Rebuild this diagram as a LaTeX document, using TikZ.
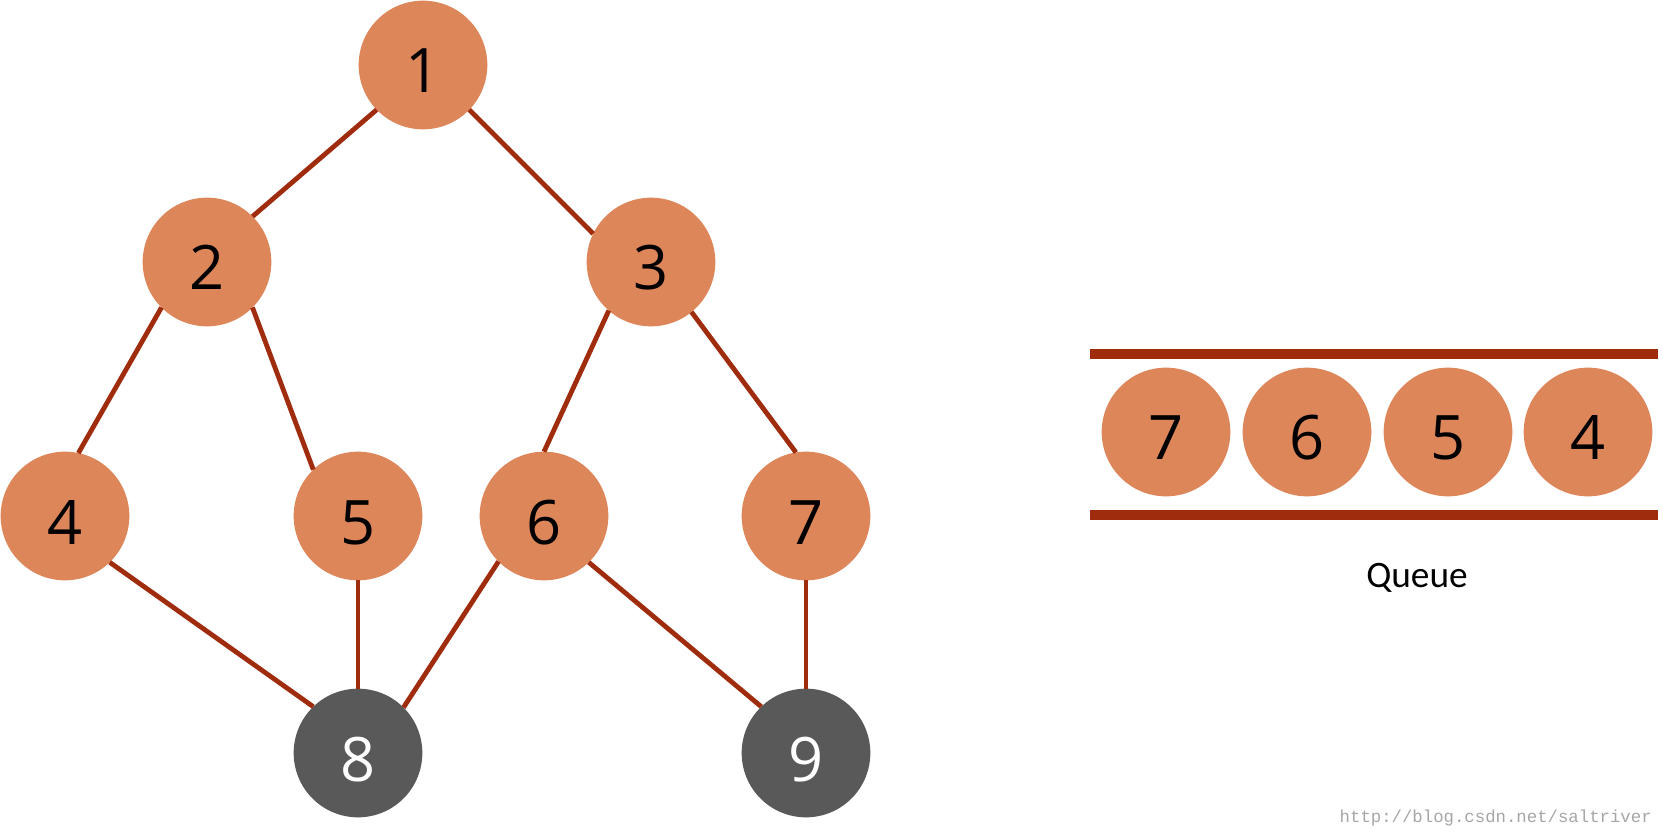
\documentclass[tikz,border=0pt]{standalone}
\usepackage{fontspec}
\setmainfont{Carlito}
\newfontfamily\digitfont{Open Sans}
\newfontfamily\wmfont{Liberation Mono}
\definecolor{nodeor}{RGB}{221,134,89}
\definecolor{nodedk}{RGB}{89,89,89}
\definecolor{edgered}{RGB}{160,44,14}
\begin{document}
\begin{tikzpicture}[x=0.75pt,y=-0.75pt,
  vtx/.style={circle,fill=nodeor,draw=none,inner sep=0pt,outer sep=0pt,minimum size=96.5pt,text height=42pt,text depth=0pt,font=\digitfont\fontsize{46}{46}\selectfont,text=black},
  dvtx/.style={vtx,fill=nodedk,text=white},
  edge/.style={draw=edgered,line width=3.6pt},
  qline/.style={draw=edgered,line width=7pt}]
\useasboundingbox (0,0) rectangle (1663,837);
% tree nodes
\node[vtx] (n1) at (423,65) {1};
\node[vtx] (n2) at (207,262) {2};
\node[vtx] (n3) at (651,262) {3};
\node[vtx] (n4) at (65,516) {4};
\node[vtx] (n5) at (358,516) {5};
\node[vtx] (n6) at (544,516) {6};
\node[vtx] (n7) at (806,516) {7};
\node[dvtx] (n8) at (358,753) {8};
\node[dvtx] (n9) at (806,753) {9};
% edges
\draw[edge] (n1.224) -- (n2.45);
\draw[edge] (n1.-44) -- (n3.154);
\draw[edge] (n2.225) -- (n4.78);
\draw[edge] (n2.-45) -- (n5.134);
\draw[edge] (n3.229) -- (n6.90);
\draw[edge] (n3.-51) -- (n7.99);
\draw[edge] (n4.-46) -- (n8.134);
\draw[edge] (n5.south) -- (n8.north);
\draw[edge] (n6.225) -- (n8.45);
\draw[edge] (n6.-46) -- (n9.134);
\draw[edge] (n7.south) -- (n9.north);
% queue
\coordinate (qtl) at (1090,354);
\coordinate (qtr) at (1658,354);
\coordinate (qbl) at (1090,515);
\coordinate (qbr) at (1658,515);
\draw[qline] (qtl) -- (qtr);
\draw[qline] (qbl) -- (qbr);
\node[vtx] (q7) at (1166,432) {7};
\node[vtx] (q6) at (1307,432) {6};
\node[vtx] (q5) at (1448,432) {5};
\node[vtx] (q4) at (1588,432) {4};
\node[font=\fontsize{28}{28}\selectfont] (qlabel) at (1417,578) {Queue};
\node[font=\wmfont\fontsize{13}{13}\selectfont,text=black!35,anchor=east,inner sep=0pt] (wm) at (1652,818) {http://blog.csdn.net/saltriver};
\end{tikzpicture}
\end{document}
